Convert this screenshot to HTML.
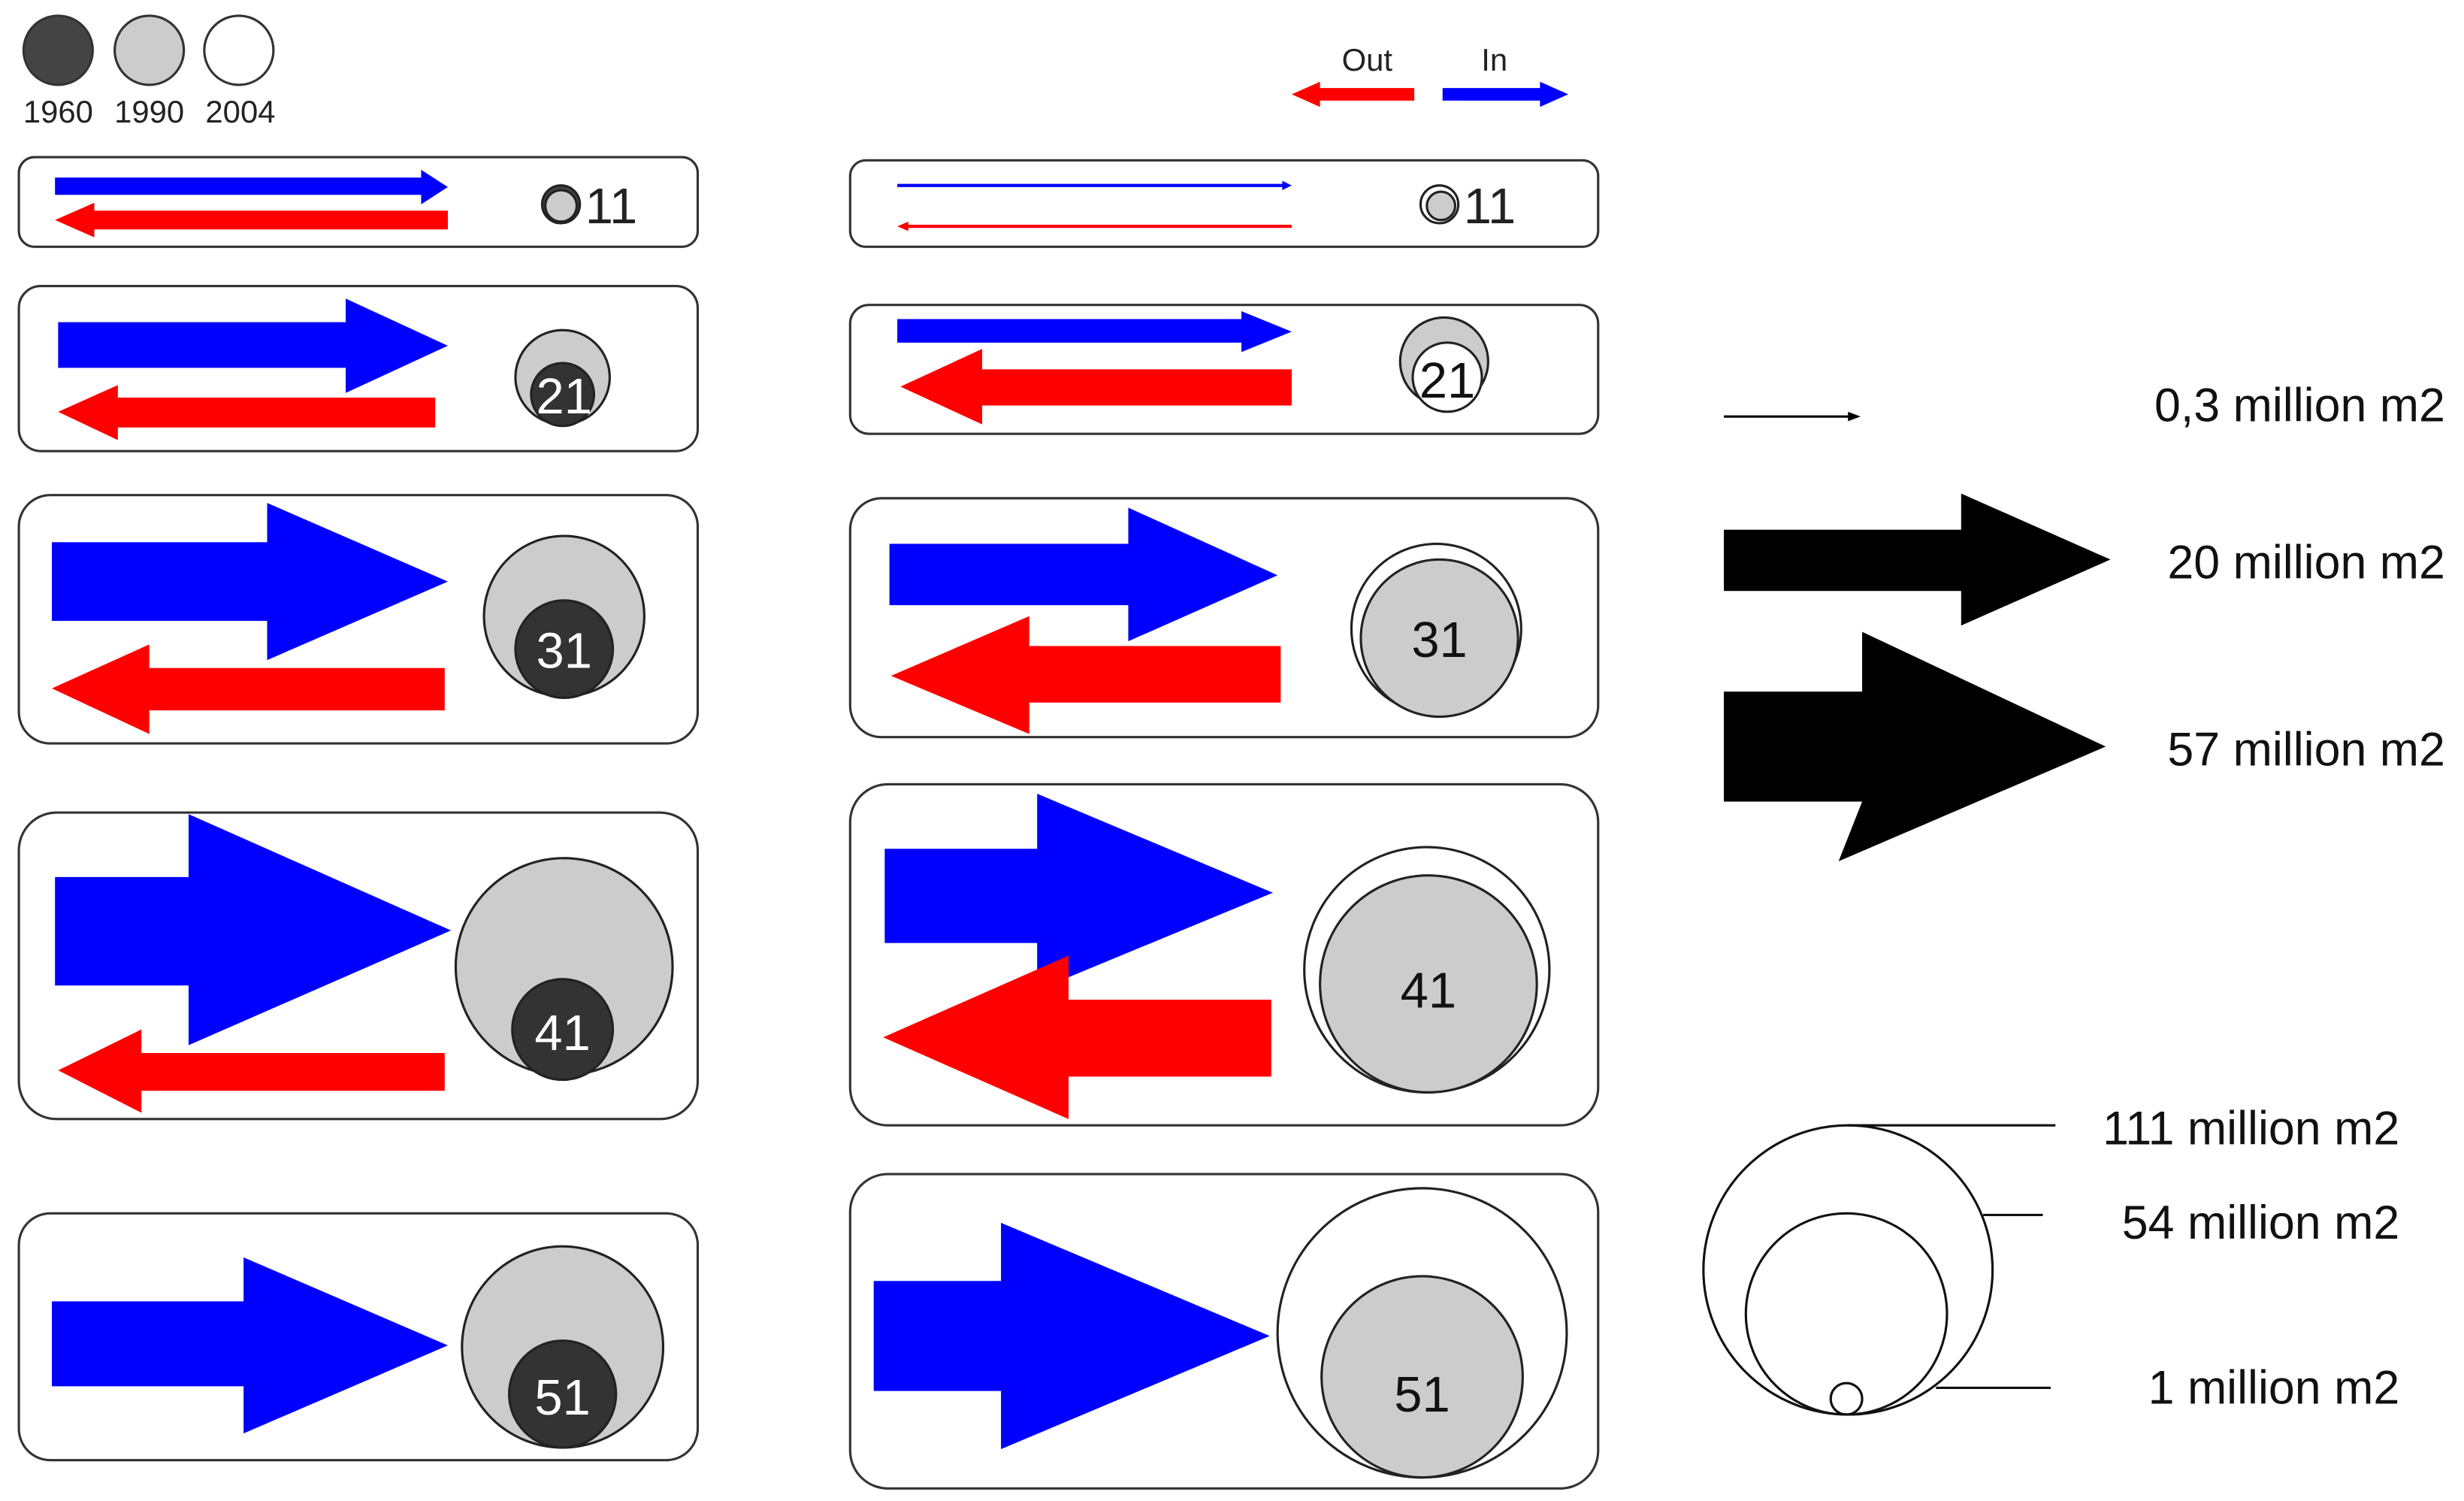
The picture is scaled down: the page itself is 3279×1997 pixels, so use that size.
<!DOCTYPE html>
<html><head><meta charset="utf-8"><style>html,body{margin:0;padding:0;background:#fff}svg{display:block}</style></head>
<body>
<svg width="3279" height="1997" viewBox="0 0 1568 955" preserveAspectRatio="none" xmlns="http://www.w3.org/2000/svg" font-family="Liberation Sans, sans-serif">
<g stroke="#333" stroke-width="1.5">
<circle cx="37" cy="32" r="22" fill="#444"/><circle cx="95" cy="32" r="22" fill="#ccc"/><circle cx="152" cy="32" r="22" fill="#fff"/>
</g>
<g font-size="20" fill="#222" text-anchor="middle"><text x="37" y="78">1960</text><text x="95" y="78">1990</text><text x="153" y="78">2004</text></g>
<g font-size="20" fill="#222" text-anchor="middle"><text x="870" y="45">Out</text><text x="951" y="45">In</text></g>
<polygon points="900,56 840,56 840,52 822,60 840,68 840,64 900,64" fill="#f00"/>
<polygon points="918,56 980,56 980,52 998,60 980,68 980,64 918,64" fill="#00f"/>
<g fill="none" stroke="#333" stroke-width="1.5">
<rect x="12" y="100" width="432" height="57" rx="10"/>
<rect x="12" y="182" width="432" height="105" rx="14"/>
<rect x="12" y="315" width="432" height="158" rx="20"/>
<rect x="12" y="517" width="432" height="195" rx="24"/>
<rect x="12" y="772" width="432" height="157" rx="20"/>
<rect x="541" y="102" width="476" height="55" rx="10"/>
<rect x="541" y="194" width="476" height="82" rx="12"/>
<rect x="541" y="317" width="476" height="152" rx="20"/>
<rect x="541" y="499" width="476" height="217" rx="24"/>
<rect x="541" y="747" width="476" height="200" rx="24"/>
</g>
<g fill="#00f">
<polygon points="35,113 268,113 268,108 285,119 268,130 268,124 35,124"/>
<polygon points="37,205 220,205 220,190 285,220 220,250 220,234 37,234"/>
<polygon points="33,345 170,345 170,320 285,370 170,420 170,395 33,395"/>
<polygon points="35,558 120,558 120,518 287,592 120,665 120,627 35,627"/>
<polygon points="33,828 155,828 155,800 285,856 155,912 155,882 33,882"/>
<polygon points="571,117 816,117 816,115 822,118 816,121 816,119 571,119"/>
<polygon points="571,203 790,203 790,198 822,211 790,224 790,218 571,218"/>
<polygon points="566,346 718,346 718,323 813,366 718,408 718,385 566,385"/>
<polygon points="563,540 660,540 660,505 810,568 660,630 660,600 563,600"/>
<polygon points="556,815 637,815 637,778 808,850 637,922 637,885 556,885"/>
</g>
<g fill="#f00">
<polygon points="285,134 60,134 60,129 35,140 60,151 60,146 285,146"/>
<polygon points="277,253 75,253 75,245 37,262 75,280 75,272 277,272"/>
<polygon points="283,425 95,425 95,410 33,438 95,467 95,452 283,452"/>
<polygon points="283,670 90,670 90,655 37,681 90,708 90,694 283,694"/>
<polygon points="822,143 578,143 578,141 571,144 578,147 578,145 822,145"/>
<polygon points="822,235 625,235 625,222 573,246 625,270 625,258 822,258"/>
<polygon points="815,411 655,411 655,392 567,430 655,467 655,447 815,447"/>
<polygon points="809,636 680,636 680,608 562,660 680,712 680,685 809,685"/>
</g>
<g stroke="#222" stroke-width="1.5">
<circle cx="357" cy="130" r="12" fill="#444"/><circle cx="357" cy="131" r="10" fill="#ccc"/>
<circle cx="358" cy="240" r="30" fill="#ccc"/><circle cx="358" cy="251" r="20" fill="#333"/>
<circle cx="359" cy="392" r="51" fill="#ccc"/><circle cx="359" cy="413" r="31" fill="#333"/>
<circle cx="359" cy="615" r="69" fill="#ccc"/><circle cx="358" cy="655" r="32" fill="#333"/>
<circle cx="358" cy="857" r="64" fill="#ccc"/><circle cx="358" cy="887" r="34" fill="#333"/>
<circle cx="916" cy="130" r="12" fill="#fff"/><circle cx="917" cy="131" r="9" fill="#ccc"/>
<circle cx="919" cy="230" r="28" fill="#ccc"/><circle cx="921" cy="240" r="22" fill="#fff"/>
<circle cx="914" cy="400" r="54" fill="#fff"/><circle cx="916" cy="406" r="50" fill="#ccc"/>
<circle cx="908" cy="617" r="78" fill="#fff"/><circle cx="909" cy="626" r="69" fill="#ccc"/>
<circle cx="905" cy="848" r="92" fill="#fff"/><circle cx="905" cy="876" r="64" fill="#ccc"/>
</g>
<g font-size="32" text-anchor="middle">
<text x="389" y="142" fill="#222">11</text>
<text x="359" y="263" fill="#fff">21</text>
<text x="359" y="425" fill="#fff">31</text>
<text x="358" y="668" fill="#fff">41</text>
<text x="358" y="900" fill="#fff">51</text>
<text x="948" y="142" fill="#222">11</text>
<text x="921" y="253" fill="#111">21</text>
<text x="916" y="418" fill="#111">31</text>
<text x="909" y="641" fill="#111">41</text>
<text x="905" y="898" fill="#111">51</text>
</g>
<line x1="1097" y1="265" x2="1178" y2="265" stroke="#000" stroke-width="1.5"/>
<polygon points="1176,262 1184,265 1176,268" fill="#000"/>
<polygon points="1097,337 1248,337 1248,314 1343,356 1248,398 1248,376 1097,376" fill="#000"/>
<polygon points="1097,440 1185,440 1185,402 1340,475 1170,548 1185,510 1097,510" fill="#000"/>
<g font-size="30" fill="#111" text-anchor="end">
<text x="1556" y="268">0,3 million m2</text>
<text x="1556" y="368">20 million m2</text>
<text x="1556" y="487">57 million m2</text>
<text x="1527" y="728">111 million m2</text>
<text x="1527" y="788">54 million m2</text>
<text x="1527" y="893">1 million m2</text>
</g>
<g fill="none" stroke="#111" stroke-width="1.5">
<circle cx="1176" cy="808" r="92"/><circle cx="1175" cy="836" r="64"/><circle cx="1175" cy="890" r="10"/>
<line x1="1176" y1="716" x2="1308" y2="716"/>
<line x1="1262" y1="773" x2="1300" y2="773"/>
<line x1="1232" y1="883" x2="1305" y2="883"/>
</g>
</svg>
</body></html>
